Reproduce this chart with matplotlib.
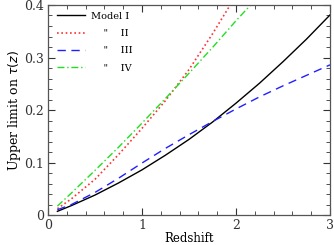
import matplotlib
matplotlib.use('Agg')
import matplotlib.pyplot as plt
from matplotlib.ticker import MultipleLocator

# redshift grid and upper limits on tau(z)
z = [0.1, 0.25, 0.5, 0.75, 1.0, 1.25, 1.5, 1.75, 2.0, 2.25, 2.5, 2.75, 3.0]
tau_model1 = [0.007, 0.018, 0.038, 0.061, 0.086, 0.114, 0.144, 0.177, 0.213, 0.251, 0.292, 0.335, 0.381]
tau_model3 = [0.010, 0.020, 0.043, 0.070, 0.099, 0.127, 0.153, 0.178, 0.202, 0.225, 0.246, 0.266, 0.286]

z_model2 = [0.1, 0.25, 0.5, 0.75, 1.0, 1.25, 1.5, 1.75, 2.0]
tau_model2 = [0.012, 0.031, 0.068, 0.115, 0.165, 0.218, 0.277, 0.345, 0.418]

z_model4 = [0.1, 0.25, 0.5, 0.75, 1.0, 1.25, 1.5, 1.75, 2.0, 2.25]
tau_model4 = [0.017, 0.042, 0.085, 0.129, 0.175, 0.222, 0.270, 0.319, 0.370, 0.418]

labels = ['Model I', '    "    II', '    "    III', '    "    IV']
xticks = [0, 1, 2, 3]
xticklabels = ['0', '1', '2', '3']
yticks = [0, 0.1, 0.2, 0.3, 0.4]
yticklabels = ['0', '0.1', '0.2', '0.3', '0.4']

plt.rcParams['font.family'] = 'DejaVu Serif'

fig = plt.figure(figsize=(3.34, 2.45), dpi=100)
ax = fig.add_axes([0.1437, 0.1224, 0.8443, 0.8572])

ax.plot(z, tau_model1, color='black', lw=1.0, ls='-', label=labels[0])
ax.plot(z_model2, tau_model2, color='#ff3030', lw=1.2, ls=(0, (1, 1.6)), label=labels[1])
ax.plot(z, tau_model3, color='#2020ff', lw=1.0, ls=(0, (6, 4)), label=labels[2])
ax.plot(z_model4, tau_model4, color='#20e020', lw=1.0, ls=(0, (5, 2, 1, 2)), label=labels[3])

ax.set_xlim(0, 3)
ax.set_ylim(0, 0.4)
ax.set_xticks(xticks)
ax.set_xticklabels(xticklabels)
ax.set_yticks(yticks)
ax.set_yticklabels(yticklabels)
ax.xaxis.set_minor_locator(MultipleLocator(0.2))
ax.yaxis.set_minor_locator(MultipleLocator(0.02))
ax.tick_params(which='both', direction='in', top=True, right=True, labelsize=9, colors='#333333')
ax.tick_params(which='major', length=5, width=0.8, pad=3)
ax.tick_params(which='minor', length=3, width=0.6)
for s in ax.spines.values():
    s.set_color('#555555')
    s.set_linewidth(0.9)

ax.set_xlabel('Redshift', fontsize=8.5, labelpad=0)
ax.set_ylabel(r'Upper limit on $\tau(z)$', fontsize=9, labelpad=1)

ax.legend(loc='upper left', bbox_to_anchor=(0.033, 0.968), frameon=False, fontsize=7,
          handlelength=2.9, handletextpad=0.6, labelspacing=0.85, borderpad=0, borderaxespad=0)

fig.savefig('out.png', dpi=100)
